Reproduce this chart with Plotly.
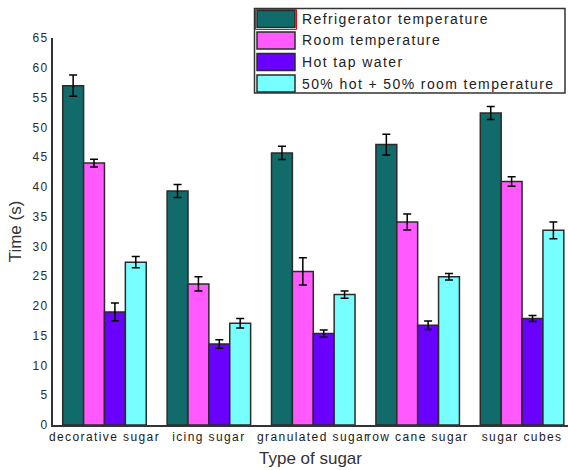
import plotly.graph_objects as go

categories = ["decorative sugar", "icing sugar", "granulated sugar", "row cane sugar", "sugar cubes"]
series_names = ["Refrigerator temperature", "Room temperature", "Hot tap water", "50% hot + 50% room temperature"]

fridge = [57.0, 39.3, 45.7, 47.1, 52.4]
fridge_err = [1.8, 1.1, 1.1, 1.75, 1.1]
room = [44.0, 23.7, 25.8, 34.1, 40.9]
room_err = [0.65, 1.2, 2.3, 1.35, 0.8]
hot = [19.0, 13.6, 15.35, 16.75, 17.9]
hot_err = [1.5, 0.7, 0.6, 0.7, 0.5]
mix = [27.35, 17.1, 21.9, 24.9, 32.7]
mix_err = [0.95, 0.8, 0.6, 0.55, 1.4]

y_ticks = list(range(0, 70, 5))

values = [fridge, room, hot, mix]
errors = [fridge_err, room_err, hot_err, mix_err]
colors = ["#116b6b", "#ff59ff", "#6a00ff", "#77ffff"]

W, H = 568, 470
L, R, T, B = 53, 0, 38, 45
PW, PH = W - L - R, H - T - B


def px(x):
    return (x - L) / PW


def py(y):
    return (H - B - y) / PH


fig = go.Figure()
for name, vals, errs, col in zip(series_names, values, errors, colors):
    fig.add_trace(go.Bar(
        name=name, x=list(range(len(categories))), y=vals,
        marker=dict(color=col, line=dict(color="#2b2b2b", width=1.5)),
        error_y=dict(type="data", array=errs, visible=True, color="#000000", thickness=1.5, width=4),
        showlegend=False,
    ))

shapes = []
annotations = []
# custom legend (large swatches like the original)
shapes.append(dict(type="rect", xref="paper", yref="paper", x0=px(254.5), x1=px(565), y0=py(93), y1=py(8.5),
                   line=dict(color="#333333", width=1.5), fillcolor="white", layer="above"))
row_tops = [10.5, 32, 53.5, 75]
for i, (name, col) in enumerate(zip(series_names, colors)):
    top = row_tops[i]
    shapes.append(dict(type="rect", xref="paper", yref="paper", x0=px(257), x1=px(295), y0=py(top + 17), y1=py(top),
                       line=dict(color="#2b2b2b", width=1.5), fillcolor=col, layer="above"))
    annotations.append(dict(text=name, xref="paper", yref="paper", x=px(300), y=py(top + 8.5),
                            xanchor="left", yanchor="middle", align="left", showarrow=False,
                            font=dict(family="Liberation Sans, Arial", size=14, color="#222222")))
shapes.append(dict(type="rect", xref="paper", yref="paper", x0=px(255.5), x1=px(296.5), y0=py(29.5), y1=py(9.5),
                   line=dict(color="#ff0000", width=1), layer="above"))

fig.update_layout(
    width=W, height=H,
    margin=dict(l=L, r=R, t=T, b=B, pad=0),
    paper_bgcolor="white", plot_bgcolor="white",
    barmode="group", bargap=0.2, bargroupgap=0,
    font=dict(family="Liberation Sans, Arial", color="#333333"),
    shapes=shapes, annotations=annotations,
    xaxis=dict(
        range=[-0.493, 4.44], tickmode="array", tickvals=list(range(len(categories))), ticktext=categories,
        showgrid=False, zeroline=False, showline=True, linecolor="#333333", linewidth=2, ticks="",
        tickfont=dict(size=12, color="#1a1a1a"),
        title=dict(text="Type of sugar", font=dict(size=17, color="#333333"), standoff=9),
    ),
    yaxis=dict(
        range=[0, 65], tickmode="array", tickvals=y_ticks,
        showgrid=False, zeroline=False, showline=True, linecolor="#333333", linewidth=2, ticks="",
        tickfont=dict(size=12, color="#2a2a2a"),
        title=dict(text="Time (s)", font=dict(size=17, color="#333333"), standoff=9),
    ),
)

post = """
document.body.style.margin = '0';
document.body.style.overflow = 'hidden';
var n = document.querySelectorAll('.annotation-text');
for (var i = 0; i < n.length && i < 4; i++) { n[i].style.letterSpacing = '1.4px'; }
var t = document.querySelectorAll('.xtick text, .ytick text');
for (var j = 0; j < t.length; j++) { t[j].style.letterSpacing = '1.4px'; }
"""
fig.write_html("out.html", post_script=post, config={"displayModeBar": False})
